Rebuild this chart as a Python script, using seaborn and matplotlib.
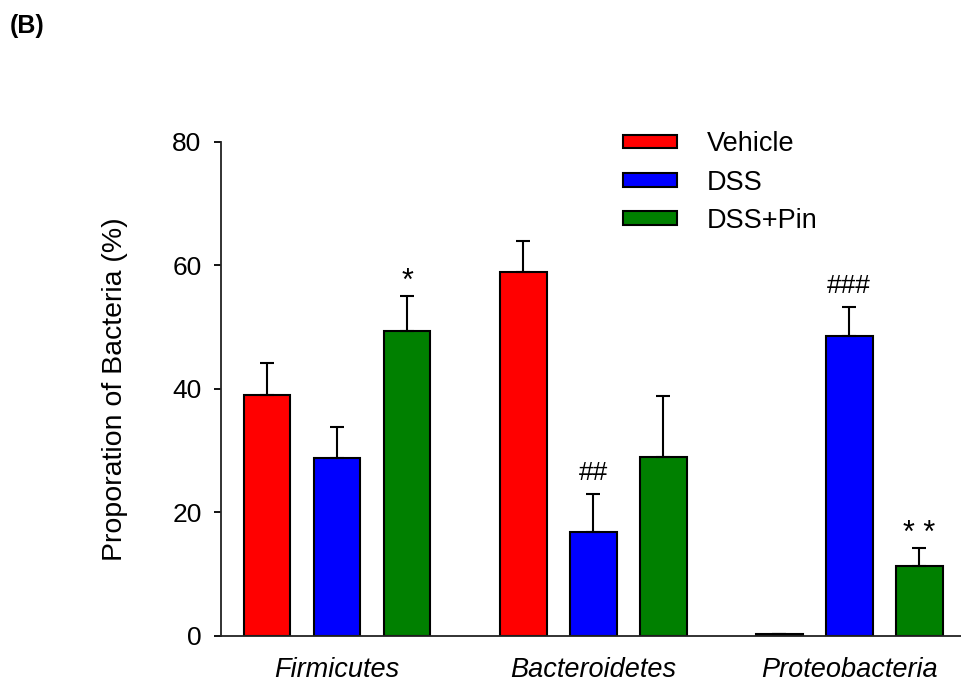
import pandas as pd
import seaborn as sns
import matplotlib.pyplot as plt

# values (mean and upper SEM, %)
phyla = ["Firmicutes", "Bacteroidetes", "Proteobacteria"]
groups = ["Vehicle", "DSS", "DSS+Pin"]
vehicle = [39.0, 59.0, 0.3]
dss = [28.8, 16.8, 48.6]
dss_pin = [49.4, 29.0, 11.3]
vehicle_sem = [5.2, 5.0, 0.1]
dss_sem = [5.0, 6.2, 4.7]
dss_pin_sem = [5.7, 9.9, 3.0]
# significance marks: (group, phylum, text)
marks = [("DSS+Pin", "Firmicutes", "*"),
         ("DSS", "Bacteroidetes", "##"),
         ("DSS", "Proteobacteria", "###"),
         ("DSS+Pin", "Proteobacteria", "* *")]
colors = ["#ff0000", "#0000ff", "#008000"]

means = {"Vehicle": vehicle, "DSS": dss, "DSS+Pin": dss_pin}
sems = {"Vehicle": vehicle_sem, "DSS": dss_sem, "DSS+Pin": dss_pin_sem}

rows = []
for g in groups:
    for p, v in zip(phyla, means[g]):
        rows.append({"phylum": p, "group": g, "value": v})
df = pd.DataFrame(rows)

sns.set_theme(style="ticks")
plt.rcParams["font.family"] = ["Liberation Sans", "DejaVu Sans"]
for k in ["text.color", "axes.labelcolor", "xtick.color", "ytick.color"]:
    plt.rcParams[k] = "black"

fig = plt.figure(figsize=(9.62, 6.84), dpi=100)
ax = fig.add_axes([0.2297, 0.0702, 0.7703, 0.7222])

sns.barplot(data=df, x="phylum", y="value", hue="group", order=phyla,
            hue_order=groups, palette=colors, saturation=1, width=0.82, gap=0.33,
            edgecolor="black", linewidth=1.5, errorbar=None, ax=ax)

centers = {}
for g, cont in zip(groups, ax.containers):
    xs = [b.get_x() + b.get_width() / 2 for b in cont]
    ax.errorbar(xs, means[g], yerr=[[0] * len(xs), sems[g]], fmt="none",
                ecolor="black", elinewidth=1.5, capsize=5, capthick=1.5, zorder=1)
    for p, x in zip(phyla, xs):
        centers[(g, p)] = x

for g, p, txt in marks:
    i = phyla.index(p)
    top = means[g][i] + sems[g][i]
    if txt.startswith("*"):
        ax.text(centers[(g, p)], top + 0.9, txt, ha="center", va="baseline", fontsize=22)
    else:
        ax.text(centers[(g, p)], top + 2.3, txt, ha="center", va="baseline", fontsize=19)

ax.set_ylim(0, 80)
ax.set_xlim(-0.453, 2.44)
ax.set_yticks([0, 20, 40, 60, 80])
ax.tick_params(axis="y", labelsize=19, length=5, width=1.3, pad=9)
ax.tick_params(axis="x", length=0, pad=15)
for lab in ax.get_xticklabels():
    lab.set_fontsize(19.5)
    lab.set_style("italic")
ax.set_xlabel("")
ax.set_ylabel("Proporation of Bacteria (%)", fontsize=20.5)
ax.yaxis.set_label_coords(-0.1255, 0.5)
sns.despine(ax=ax)
for s in ["left", "bottom"]:
    ax.spines[s].set_linewidth(1.3)
    ax.spines[s].set_color("#222222")

handles, labels = ax.get_legend_handles_labels()
ax.legend(handles, labels, loc="upper left", bbox_to_anchor=(0.6476, 0.808),
          bbox_transform=fig.transFigure, frameon=False, fontsize=19.5,
          handlelength=2.0, handleheight=0.4, handletextpad=1.1,
          labelspacing=0.45, borderpad=0, borderaxespad=0)

fig.text(0.010, 1 - 26 / 684, "(B)", fontsize=18, fontweight="bold", va="center")

fig.savefig("out.png", dpi=100)
